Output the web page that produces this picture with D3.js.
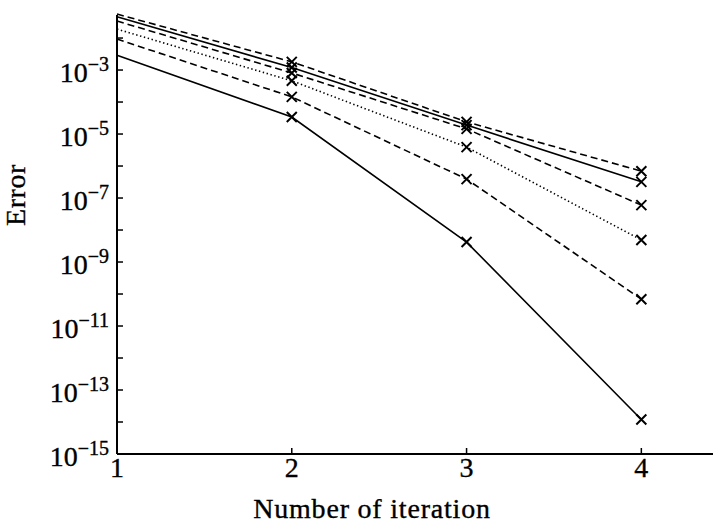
<!DOCTYPE html>
<html lang="en">
<head>
    <meta charset="UTF-8">
    <title>Error vs number of iteration</title>
    <script type='text/javascript' src="https://d3js.org/d3.v7.min.js"></script>
    <style>
        body { margin: 0; padding: 0; background: #fff; }
        text { font-family: "Liberation Serif", "DejaVu Serif", serif; fill: #000; stroke: #000; stroke-width: 0.35px; }
    </style>
</head>
<body>
    <svg id="chart" width="713" height="530"></svg>
    <script>
        // Data, one series per curve (top to bottom at iteration 1).
        let iterations = [1, 2, 3, 4];
        let errDashedA = [0.056, 1.8e-3, 2.4e-5, 6.9e-7];
        let errSolidA = [0.046, 1.2e-3, 1.9e-5, 3.2e-7];
        let errDashedB = [0.034, 8.1e-4, 1.45e-5, 6.0e-8];
        let errDotted = [0.019, 4.6e-4, 3.9e-6, 4.9e-9];
        let errDashedC = [0.0093, 1.45e-4, 3.9e-7, 6.9e-11];
        let errSolidB = [0.0029, 3.4e-5, 4.2e-9, 1.2e-14];
        let yTickExps = [-15, -14, -13, -12, -11, -10, -9, -8, -7, -6, -5, -4, -3, -2];
        let yLabelExps = [-15, -13, -11, -9, -7, -5, -3];

        let series = [
            { values: errDashedA, dash: "7,4" },
            { values: errSolidA, dash: null },
            { values: errDashedB, dash: "7,4" },
            { values: errDotted, dash: "1.4,2.6" },
            { values: errDashedC, dash: "7,4" },
            { values: errSolidB, dash: null }
        ];

        let svg = d3.select("#chart");

        let x = d3.scaleLinear().domain([1, 4.41]).range([117, 713]);
        let y = d3.scaleLog().domain([1e-15, Math.pow(10, -1.28)]).range([454, 15]);

        // Curves
        let line = d3.line()
            .x(function(d) { return x(d.it); })
            .y(function(d) { return y(d.v); });

        series.forEach(function(s) {
            let pts = iterations.map(function(it, i) { return { it: it, v: s.values[i] }; });
            svg.append("path")
                .datum(pts)
                .attr("d", line)
                .style("fill", "none")
                .style("stroke", "#000")
                .style("stroke-width", 1.6)
                .style("stroke-dasharray", s.dash);

            // Crosses at iterations 2..4
            let m = 5;
            svg.append("g").selectAll("path")
                .data(pts.slice(1))
                .enter().append("path")
                .attr("d", function(d) {
                    let cx = x(d.it), cy = y(d.v);
                    return "M" + (cx - m) + "," + (cy - m) + "L" + (cx + m) + "," + (cy + m) +
                           "M" + (cx - m) + "," + (cy + m) + "L" + (cx + m) + "," + (cy - m);
                })
                .style("stroke", "#000")
                .style("stroke-width", 2);
        });

        // Axes lines
        svg.append("line")
            .attr("x1", x(1)).attr("x2", x(1))
            .attr("y1", y.range()[1]).attr("y2", y.range()[0])
            .style("stroke", "#000").style("stroke-width", 2);
        svg.append("line")
            .attr("x1", x(1)).attr("x2", x.range()[1])
            .attr("y1", y.range()[0]).attr("y2", y.range()[0])
            .style("stroke", "#000").style("stroke-width", 2);

        // Y ticks (inward)
        svg.append("g").selectAll("line")
            .data(yTickExps)
            .enter().append("line")
            .attr("x1", x(1)).attr("x2", x(1) + 6)
            .attr("y1", function(e) { return y(Math.pow(10, e)); })
            .attr("y2", function(e) { return y(Math.pow(10, e)); })
            .style("stroke", "#000").style("stroke-width", 1.5);

        // Y labels 10^e
        let yLab = svg.append("g").selectAll("text")
            .data(yLabelExps)
            .enter().append("text")
            .attr("x", 109)
            .attr("y", function(e) { return y(Math.pow(10, e)) + 12; })
            .attr("text-anchor", "end")
            .style("font-size", "28px");
        yLab.append("tspan").text("10");
        yLab.append("tspan")
            .attr("dy", -11)
            .style("font-size", "20px")
            .text(function(e) { return "\u2212" + Math.abs(e); });

        // X ticks (inward) and labels
        svg.append("g").selectAll("line")
            .data(iterations)
            .enter().append("line")
            .attr("x1", function(d) { return x(d); })
            .attr("x2", function(d) { return x(d); })
            .attr("y1", y.range()[0]).attr("y2", y.range()[0] - 6)
            .style("stroke", "#000").style("stroke-width", 1.5);

        svg.append("g").selectAll("text")
            .data(iterations)
            .enter().append("text")
            .attr("x", function(d) { return x(d); })
            .attr("y", 477)
            .attr("text-anchor", "middle")
            .style("font-size", "28px")
            .text(function(d) { return d; });

        // Axis titles
        svg.append("text")
            .attr("x", 372).attr("y", 518)
            .attr("text-anchor", "middle")
            .style("font-size", "28px")
            .style("letter-spacing", "0.8px")
            .text("Number of iteration");

        svg.append("text")
            .attr("transform", "translate(25,195) rotate(-90)")
            .attr("text-anchor", "middle")
            .style("font-size", "28px")
            .style("letter-spacing", "0.6px")
            .text("Error");
    </script>
</body>
</html>
